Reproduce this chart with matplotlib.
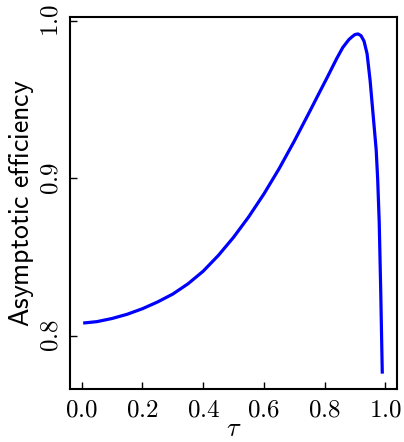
import matplotlib
matplotlib.use("Agg")
import matplotlib.pyplot as plt
from matplotlib.ticker import FuncFormatter

plt.rcParams['mathtext.fontset'] = 'cm'

# quantile level and asymptotic efficiency
tau = [0.01, 0.05, 0.10, 0.15, 0.20, 0.25, 0.30, 0.35, 0.40, 0.45,
       0.50, 0.55, 0.60, 0.65, 0.70, 0.75, 0.78, 0.81, 0.84, 0.86,
       0.88, 0.89, 0.90, 0.91, 0.92, 0.93, 0.94, 0.95, 0.96, 0.97,
       0.975, 0.98, 0.985, 0.99]
efficiency = [0.8082, 0.8090, 0.8110, 0.8137, 0.8172, 0.8215, 0.8265, 0.8330, 0.8410, 0.8510,
              0.8625, 0.8755, 0.8900, 0.9060, 0.9235, 0.9420, 0.9533, 0.9645, 0.9760, 0.9830,
              0.9880, 0.9897, 0.9912, 0.9916, 0.9905, 0.9870, 0.9790, 0.9620, 0.9400, 0.9180,
              0.8990, 0.8720, 0.8280, 0.7770]

xticks = [0.0, 0.2, 0.4, 0.6, 0.8, 1.0]
yticks = [0.8, 0.9, 1.0]

fig = plt.figure(figsize=(4.04, 4.42), dpi=100)
ax = fig.add_axes([0.173, 0.120, 0.810, 0.8415])

ax.plot(tau, efficiency, color='blue', lw=2.3, solid_joinstyle='round')
ax.margins(x=0.05, y=0.05)

ax.set_xticks(xticks)
ax.set_yticks(yticks)
fmt = FuncFormatter(lambda v, pos: r'$%.1f$' % v)
ax.xaxis.set_major_formatter(fmt)
ax.yaxis.set_major_formatter(fmt)
ax.tick_params(direction='in', length=5, width=1, labelsize=18, top=False, right=False)
ax.tick_params(axis='x', pad=6)
ax.tick_params(axis='y', pad=5)
for lab in ax.get_yticklabels():
    lab.set_rotation(90)
    lab.set_va('center')

for sp in ax.spines.values():
    sp.set_linewidth(1.5)

ax.set_xlabel(r'$\tau$', fontsize=19, labelpad=-4)
ax.set_ylabel(r'$\mathsf{Asymptotic\ efficiency}$', fontsize=20, labelpad=2)

fig.savefig('out.png', dpi=100)
